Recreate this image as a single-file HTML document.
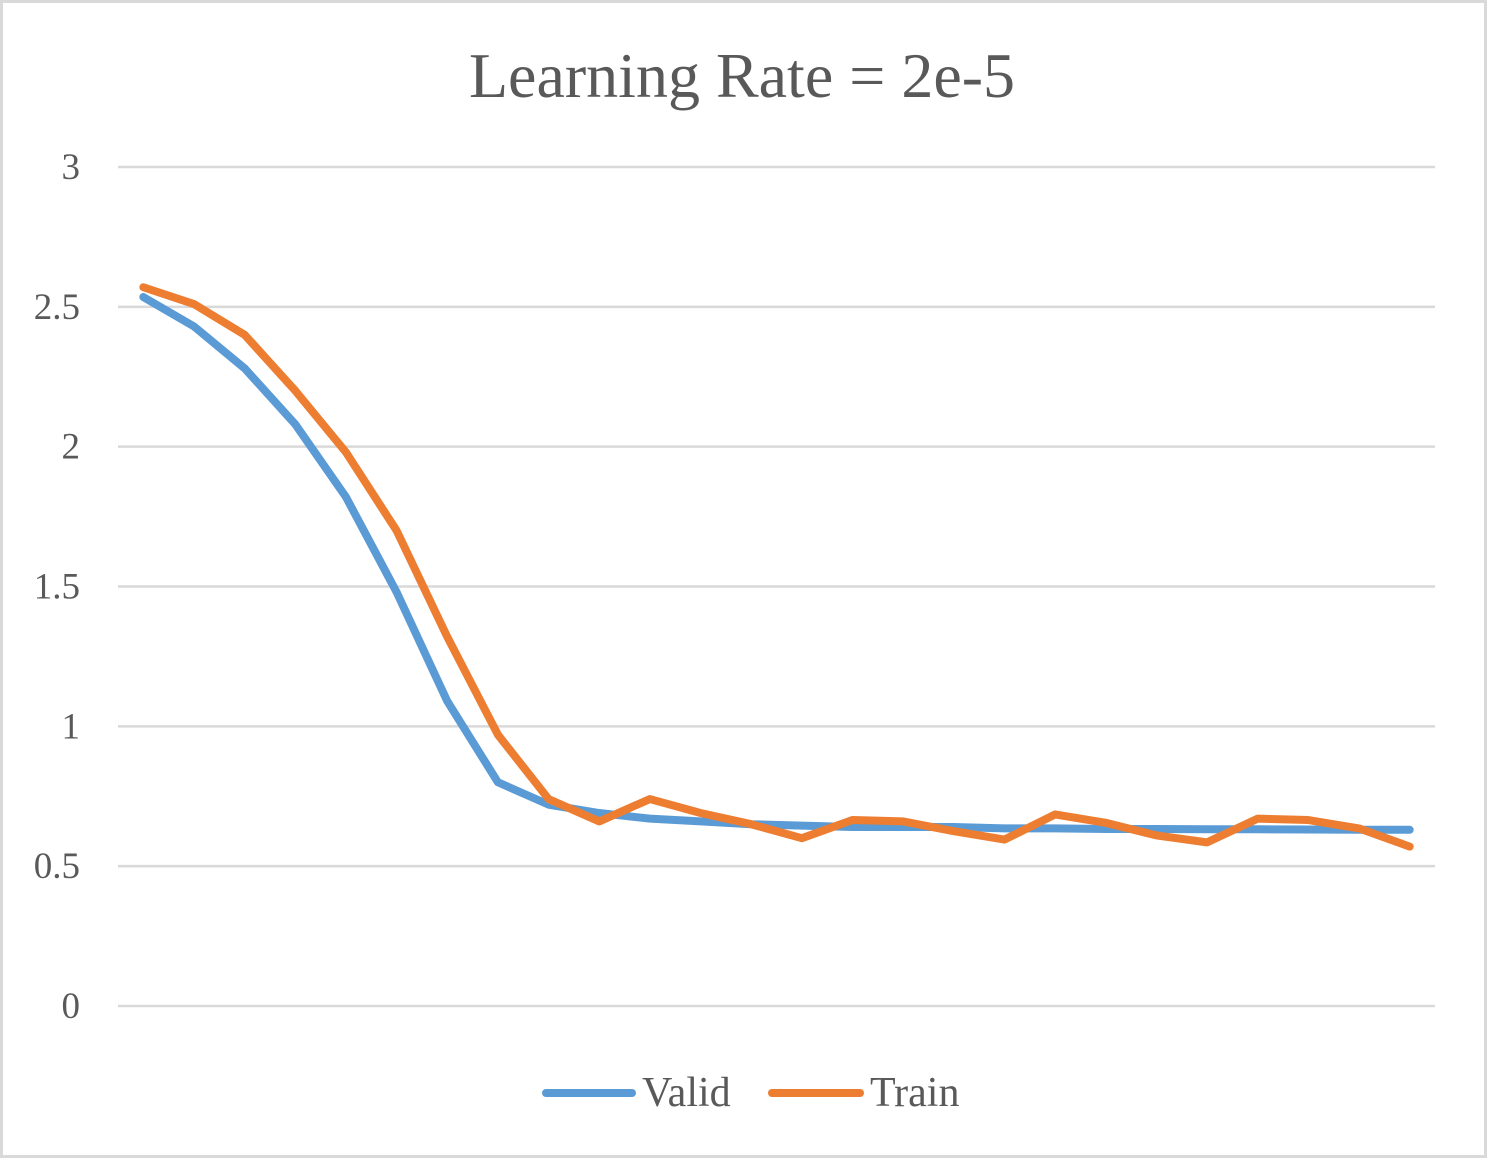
<!DOCTYPE html>
<html><head><meta charset="utf-8"><style>
html,body{margin:0;padding:0;background:#fff;}
svg{display:block;}
text{font-family:"Liberation Serif",serif;fill:#595959;}
</style></head><body>
<svg id="chart" width="1487" height="1158">
<rect x="1.5" y="1.5" width="1484" height="1155" fill="#fff" stroke="#d9d9d9" stroke-width="3"/>
<text x="742" y="97" font-size="64" text-anchor="middle">Learning Rate = 2e-5</text>
<g id="grid"></g>
<g id="series"></g>
<g>
<line x1="546" y1="1093" x2="632" y2="1093" stroke="#5b9bd5" stroke-width="8" stroke-linecap="round"/>
<text x="642" y="1106" font-size="42">Valid</text>
<line x1="772" y1="1093" x2="860" y2="1093" stroke="#ed7d31" stroke-width="8" stroke-linecap="round"/>
<text x="870" y="1106" font-size="42">Train</text>
</g>
</svg>
<script>
const yTicks = [0, 0.5, 1, 1.5, 2, 2.5, 3];
const yTickLabels = ["0", "0.5", "1", "1.5", "2", "2.5", "3"];
const validValues = [2.535,2.43,2.28,2.08,1.82,1.48,1.09,0.80,0.72,0.69,0.67,0.66,0.65,0.645,0.64,0.64,0.64,0.635,0.635,0.633,0.633,0.632,0.632,0.631,0.63,0.63];
const trainValues = [2.57,2.51,2.40,2.20,1.98,1.70,1.32,0.97,0.74,0.66,0.74,0.69,0.65,0.60,0.665,0.66,0.625,0.595,0.685,0.655,0.61,0.585,0.67,0.665,0.635,0.57];

const NS = "http://www.w3.org/2000/svg";
const plotLeft = 118, plotRight = 1435, plotTop = 167, plotBottom = 1006, yMax = 3;
const nPts = validValues.length;
function xPos(i){ return plotLeft + (plotRight-plotLeft)/nPts*(i+0.5); }
function yPos(v){ return plotBottom - (plotBottom-plotTop)*v/yMax; }

const grid = document.getElementById('grid');
yTicks.forEach((t,i)=>{
  const l = document.createElementNS(NS,'line');
  l.setAttribute('x1',plotLeft); l.setAttribute('x2',plotRight);
  l.setAttribute('y1',yPos(t)); l.setAttribute('y2',yPos(t));
  l.setAttribute('stroke','#d9d9d9'); l.setAttribute('stroke-width','2.5');
  
  
  grid.appendChild(l);
  const tx = document.createElementNS(NS,'text');
  tx.setAttribute('x',80); tx.setAttribute('y',yPos(t)+12);
  tx.setAttribute('font-size','37'); tx.setAttribute('text-anchor','end');
  tx.textContent = yTickLabels[i];
  
  
  grid.appendChild(tx);
});

const series = document.getElementById('series');
function drawLine(vals,color,name){
  const p = document.createElementNS(NS,'polyline');
  p.setAttribute('points', vals.map((v,i)=>xPos(i)+','+yPos(v)).join(' '));
  p.setAttribute('fill','none'); p.setAttribute('stroke',color);
  p.setAttribute('stroke-width','8'); p.setAttribute('stroke-linejoin','round'); p.setAttribute('stroke-linecap','round');
  
  
  series.appendChild(p);
}
drawLine(validValues,'#5b9bd5','valid-line');
drawLine(trainValues,'#ed7d31','train-line');
</script>
</body></html>
